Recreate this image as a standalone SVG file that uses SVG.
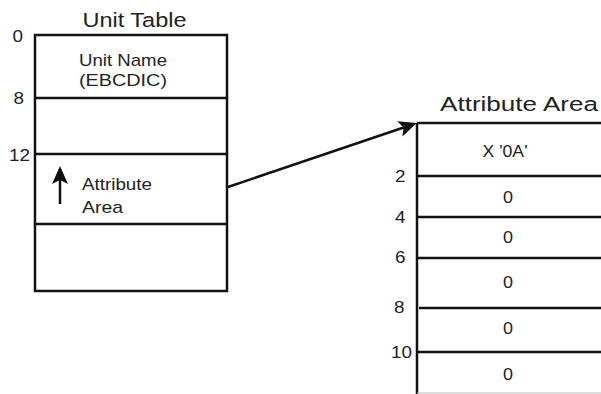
<svg xmlns="http://www.w3.org/2000/svg" width="601" height="394" viewBox="0 0 601 394">
<style>
.t{font-family:"Liberation Sans",Arial,sans-serif;fill:#222}
.title{font-size:20.5px}
.body{font-size:17px}
.num{font-size:16px;text-anchor:end}
.cell{font-size:16px;text-anchor:middle}
.ln{stroke:#111;stroke-width:2.5;fill:none}
</style>
<defs>
<marker id="ah" viewBox="-16 -9 20 18" markerWidth="20" markerHeight="18" refX="0" refY="0" markerUnits="userSpaceOnUse" orient="auto">
<path d="M3,0 L-15,-8 L-11,0 L-15,8 Z" fill="#111"/>
</marker>
</defs>
<rect width="601" height="394" fill="#fff"/>
<g id="unit-table">
<text class="t title" x="82.5" y="27" textLength="104" lengthAdjust="spacingAndGlyphs">Unit Table</text>
<rect class="ln" x="35" y="35" width="192" height="256"/>
<line class="ln" x1="35" y1="98" x2="227" y2="98"/>
<line class="ln" x1="35" y1="154" x2="227" y2="154"/>
<line class="ln" x1="35" y1="224" x2="227" y2="224"/>
<text class="t num" x="23" y="42" textLength="10.5" lengthAdjust="spacingAndGlyphs">0</text>
<text class="t num" x="24" y="104" textLength="10.5" lengthAdjust="spacingAndGlyphs">8</text>
<text class="t num" x="30" y="161" textLength="21" lengthAdjust="spacingAndGlyphs">12</text>
<text class="t body" x="79" y="66" textLength="88" lengthAdjust="spacingAndGlyphs">Unit Name</text>
<text class="t body" x="79" y="86" textLength="88" lengthAdjust="spacingAndGlyphs">(EBCDIC)</text>
<text class="t body" x="82" y="190" textLength="70" lengthAdjust="spacingAndGlyphs">Attribute</text>
<text class="t body" x="82" y="213" textLength="41" lengthAdjust="spacingAndGlyphs">Area</text>
<line class="ln" x1="60" y1="204" x2="60" y2="169" marker-end="url(#ah)"/>
</g>
<g id="attribute-area">
<text class="t title" x="440" y="111" textLength="158" lengthAdjust="spacingAndGlyphs">Attribute Area</text>
<line class="ln" x1="417" y1="123" x2="417" y2="394"/>
<line class="ln" x1="417" y1="123" x2="601" y2="123"/>
<line class="ln" x1="417" y1="176" x2="601" y2="176"/>
<line class="ln" x1="417" y1="217" x2="601" y2="217"/>
<line class="ln" x1="417" y1="258" x2="601" y2="258"/>
<line class="ln" x1="419" y1="308" x2="601" y2="308"/>
<line class="ln" x1="417" y1="352" x2="601" y2="352"/>
<line x1="417" y1="393" x2="601" y2="393" stroke="#bbb" stroke-width="1"/>
<text class="t num" x="405.5" y="182" textLength="10.5" lengthAdjust="spacingAndGlyphs">2</text>
<text class="t num" x="405.5" y="223" textLength="10.5" lengthAdjust="spacingAndGlyphs">4</text>
<text class="t num" x="405.5" y="263" textLength="10.5" lengthAdjust="spacingAndGlyphs">6</text>
<text class="t num" x="404.5" y="313" textLength="10.5" lengthAdjust="spacingAndGlyphs">8</text>
<text class="t num" x="412" y="358" textLength="21" lengthAdjust="spacingAndGlyphs">10</text>
<text class="t cell" x="505" y="157" textLength="45" lengthAdjust="spacingAndGlyphs">X '0A'</text>
<text class="t cell" x="508" y="203" textLength="10" lengthAdjust="spacingAndGlyphs">0</text>
<text class="t cell" x="508" y="243" textLength="10" lengthAdjust="spacingAndGlyphs">0</text>
<text class="t cell" x="508" y="288" textLength="10" lengthAdjust="spacingAndGlyphs">0</text>
<text class="t cell" x="508" y="334" textLength="10" lengthAdjust="spacingAndGlyphs">0</text>
<text class="t cell" x="508" y="380" textLength="10" lengthAdjust="spacingAndGlyphs">0</text>
</g>
<g id="connectors">
<line class="ln" x1="228" y1="187" x2="414" y2="124" marker-end="url(#ah)"/>
</g>
</svg>
